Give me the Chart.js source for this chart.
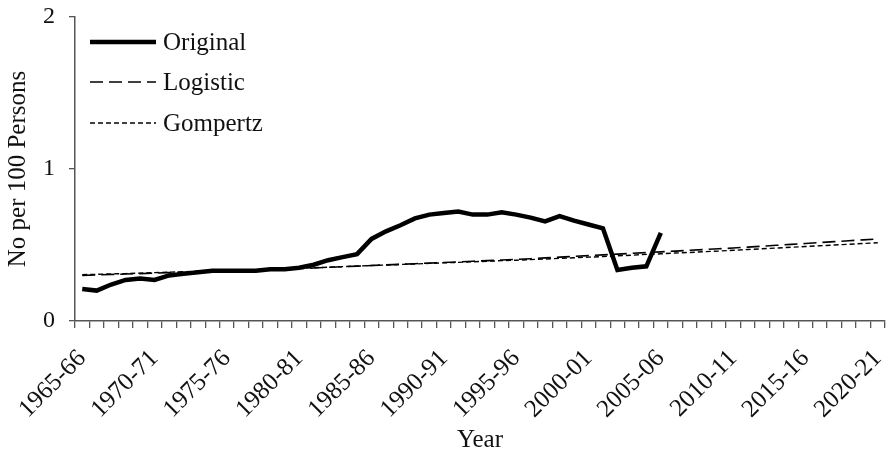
<!DOCTYPE html>
<html>
<head>
<meta charset="utf-8">
<script src="https://cdn.jsdelivr.net/npm/chart.js@4/dist/chart.umd.min.js"></script>
<style>
  html, body { margin: 0; padding: 0; background: #fff; }
  #wrap { width: 890px; height: 457px; }
</style>
</head>
<body>
<div id="wrap"><canvas id="linechart"></canvas></div>
<script>
// categories 1965-66 .. 2020-21
const years = [
  '1965-66','1966-67','1967-68','1968-69','1969-70','1970-71','1971-72','1972-73','1973-74','1974-75',
  '1975-76','1976-77','1977-78','1978-79','1979-80','1980-81','1981-82','1982-83','1983-84','1984-85',
  '1985-86','1986-87','1987-88','1988-89','1989-90','1990-91','1991-92','1992-93','1993-94','1994-95',
  '1995-96','1996-97','1997-98','1998-99','1999-00','2000-01','2001-02','2002-03','2003-04','2004-05',
  '2005-06','2006-07','2007-08','2008-09','2009-10','2010-11','2011-12','2012-13','2013-14','2014-15',
  '2015-16','2016-17','2017-18','2018-19','2019-20','2020-21'
];

const original = [
  0.21, 0.20, 0.24, 0.27, 0.28, 0.27, 0.30, 0.31, 0.32, 0.33,
  0.33, 0.33, 0.33, 0.34, 0.34, 0.35, 0.37, 0.40, 0.42, 0.44,
  0.54, 0.59, 0.63, 0.675, 0.70, 0.71, 0.72, 0.70, 0.70, 0.715,
  0.70, 0.68, 0.655, 0.69, 0.66, 0.635, 0.61, 0.335, 0.35, 0.36,
  0.58
];

const logistic = [
  0.300, 0.303, 0.306, 0.309, 0.312, 0.315, 0.318, 0.321, 0.324, 0.327,
  0.330, 0.333, 0.336, 0.339, 0.342, 0.345, 0.349, 0.353, 0.357, 0.361,
  0.365, 0.369, 0.373, 0.377, 0.381, 0.385, 0.389, 0.393, 0.397, 0.401,
  0.405, 0.410, 0.415, 0.420, 0.425, 0.430, 0.435, 0.440, 0.445, 0.450,
  0.455, 0.460, 0.465, 0.470, 0.475, 0.480, 0.486, 0.492, 0.498, 0.504,
  0.510, 0.516, 0.522, 0.528, 0.534, 0.540
];

const gompertz = [
  0.305, 0.307, 0.310, 0.312, 0.315, 0.318, 0.321, 0.324, 0.327, 0.329,
  0.332, 0.335, 0.338, 0.341, 0.344, 0.347, 0.350, 0.354, 0.358, 0.361,
  0.365, 0.368, 0.372, 0.375, 0.379, 0.383, 0.386, 0.390, 0.393, 0.397,
  0.400, 0.404, 0.408, 0.412, 0.416, 0.420, 0.424, 0.429, 0.433, 0.438,
  0.442, 0.447, 0.451, 0.456, 0.460, 0.465, 0.470, 0.475, 0.480, 0.485,
  0.490, 0.495, 0.500, 0.505, 0.510, 0.515
];

const serif = "'Liberation Serif', 'Times New Roman', serif";

// legend drawn inside the plot, top-left, like the original figure
const legendPlugin = {
  id: 'innerLegend',
  afterDraw(chart) {
    const ctx = chart.ctx;
    const items = [
      { text: 'Original', width: 4.5, dash: [] , y: 42 },
      { text: 'Logistic', width: 1.6, dash: [13, 6], y: 82 },
      { text: 'Gompertz', width: 1.4, dash: [5, 3], y: 123 }
    ];
    ctx.save();
    items.forEach(it => {
      ctx.beginPath();
      ctx.strokeStyle = '#000';
      ctx.lineWidth = it.width;
      ctx.setLineDash(it.dash);
      ctx.moveTo(90, it.y);
      ctx.lineTo(156, it.y);
      ctx.stroke();
      ctx.setLineDash([]);
      ctx.fillStyle = '#111';
      ctx.font = '25px ' + serif;
      ctx.textBaseline = 'middle';
      ctx.fillText(it.text, 163, it.y + 1);
    });
    ctx.restore();
  }
};

const ctxl = document.getElementById('linechart').getContext('2d');
const linechart = new Chart(ctxl, {
  type: 'line',
  data: {
    labels: years,
    datasets: [
      {
        label: 'Original',
        data: original,
        borderColor: '#000',
        borderWidth: 4.5,
        pointRadius: 0,
        tension: 0
      },
      {
        label: 'Logistic',
        data: logistic,
        borderColor: '#000',
        borderWidth: 1.6,
        borderDash: [13, 6],
        pointRadius: 0,
        tension: 0
      },
      {
        label: 'Gompertz',
        data: gompertz,
        borderColor: '#000',
        borderWidth: 1.4,
        borderDash: [5, 3],
        pointRadius: 0,
        tension: 0
      }
    ]
  },
  options: {
    responsive: true,
    maintainAspectRatio: false,
    animation: false,
    layout: { padding: { top: 17, right: 5, left: 0, bottom: 0 } },
    plugins: {
      legend: { display: false },
      tooltip: { enabled: false }
    },
    scales: {
      x: {
        offset: true,
        grid: {
          offset: true,
          drawOnChartArea: false,
          drawTicks: true,
          tickLength: 7,
          color: '#555',
          lineWidth: 1.3
        },
        border: { color: '#555', width: 1.5 },
        ticks: {
          autoSkip: false,
          maxRotation: 45,
          minRotation: 45,
          padding: 16,
          color: '#111',
          font: { family: serif, size: 25 },
          callback: function (val, i) { return i % 5 === 0 ? years[i] : ''; }
        },
        title: {
          display: true,
          text: 'Year',
          color: '#111',
          font: { family: serif, size: 25 },
          padding: { top: 0, bottom: 2 }
        },
        afterFit: function (scale) {
          scale.height = 136;
          scale.paddingLeft = 0;
          scale.paddingRight = 0;
        }
      },
      y: {
        min: 0,
        max: 2,
        grid: {
          drawOnChartArea: false,
          drawTicks: true,
          tickLength: 6,
          color: '#555',
          lineWidth: 1.3
        },
        border: { color: '#555', width: 1.5 },
        ticks: {
          stepSize: 1,
          padding: 14,
          color: '#111',
          font: { family: serif, size: 24 }
        },
        title: {
          display: true,
          text: 'No per 100 Persons',
          color: '#111',
          font: { family: serif, size: 25 },
          padding: { top: 3, bottom: 0 }
        },
        afterFit: function (scale) {
          scale.width = 75;
          scale.paddingTop = 0;
          scale.paddingBottom = 0;
        }
      }
    }
  },
  plugins: [legendPlugin]
});
</script>
</body>
</html>
